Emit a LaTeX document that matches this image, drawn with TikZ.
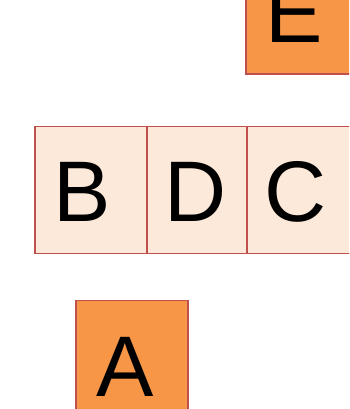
\documentclass[tikz,border=0pt]{standalone}
\usepackage{fontspec}
\setmainfont{Liberation Sans}
\definecolor{bordred}{HTML}{C0504D}
\definecolor{lightfill}{HTML}{FDE9D9}
\definecolor{orangefill}{HTML}{F79646}
\tikzset{
  cell/.style={draw=bordred, line width=1.3pt, minimum width=112pt, minimum height=127pt, inner sep=0pt},
  lightcell/.style={cell, fill=lightfill},
  darkcell/.style={cell, fill=orangefill},
  letter/.style={font=\fontsize{86}{86}\selectfont, inner sep=0pt, anchor=base west}
}
\begin{document}
\begin{tikzpicture}[x=1pt,y=-1pt]
\useasboundingbox (0,0) rectangle (349,409);
\begin{scope}
\clip (0,0) rectangle (349,409);
% E
\node[darkcell] (E) at (302,10.5) {};
\node[letter] (tE) at ([xshift=20pt,yshift=-32pt]E.west) {E};
% B D C
\node[lightcell] (B) at (91,190) {};
\node[letter] (tB) at ([xshift=19pt,yshift=-31.5pt]B.west) {B};
\node[lightcell, minimum width=113pt] (D) at (203.5,190) {};
\node[letter] (tD) at ([xshift=18pt,yshift=-31.5pt]D.west) {D};
\node[lightcell] (C) at (303,190) {};
\node[letter] (tC) at ([xshift=18pt,yshift=-31.5pt]C.west) {C};
% A
\node[darkcell] (A) at (132,364) {};
\node[letter] (tA) at ([xshift=21pt,yshift=-32.5pt]A.west) {A};
\end{scope}
\end{tikzpicture}
\end{document}
